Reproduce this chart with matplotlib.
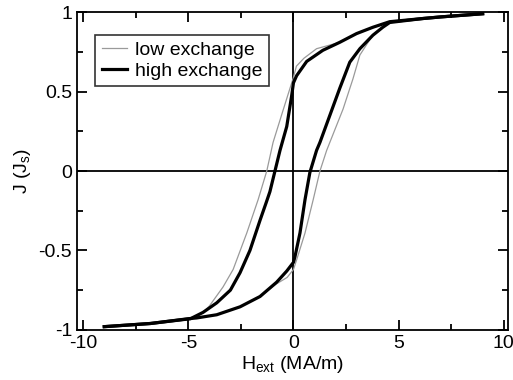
import numpy as np
import matplotlib
matplotlib.use('Agg')
import matplotlib.pyplot as plt
from matplotlib.ticker import MultipleLocator

plt.rcParams['font.family'] = ['Liberation Sans', 'DejaVu Sans']
plt.rcParams['mathtext.default'] = 'regular'

# high exchange, descending branch (from +saturation)
h_high_down = [9.0, 7.0, 6.16, 4.58, 3.78, 3.0, 2.2, 1.4, 0.63, 0.15, 0.0, -0.09, -0.32, -0.64,
               -0.88, -1.12, -1.3, -1.59, -2.07, -2.54, -3.0, -3.65, -4.3, -4.9, -6.8, -9.0]
j_high_down = [0.99, 0.97, 0.96, 0.94, 0.905, 0.865, 0.81, 0.76, 0.69, 0.60, 0.555, 0.47, 0.28, 0.13,
               0.0, -0.13, -0.2, -0.31, -0.50, -0.64, -0.75, -0.83, -0.89, -0.93, -0.96, -0.98]
# high exchange, ascending branch (from -saturation)
h_high_up = [-9.0, -6.8, -5.0, -4.6, -3.65, -2.54, -1.59, -0.8, -0.32, 0.0, 0.07, 0.31, 0.55,
             0.78, 1.1, 1.26, 1.73, 2.2, 2.68, 3.16, 3.78, 4.25, 4.58, 6.16, 7.0, 9.0]
j_high_up = [-0.98, -0.96, -0.93, -0.925, -0.905, -0.855, -0.79, -0.70, -0.63, -0.575, -0.54, -0.39, -0.18,
             -0.01, 0.13, 0.18, 0.35, 0.52, 0.685, 0.77, 0.855, 0.905, 0.935, 0.96, 0.97, 0.99]

# low exchange, descending branch
h_low_down = [9.0, 7.0, 4.58, 3.0, 2.2, 1.1, 0.5, 0.14, 0.0, -0.5, -0.97, -1.27, -1.68,
              -2.22, -2.87, -3.35, -4.0, -4.3, -4.9, -6.8, -9.0]
j_low_down = [0.99, 0.97, 0.94, 0.865, 0.81, 0.77, 0.71, 0.66, 0.59, 0.38, 0.18, 0.0, -0.18,
              -0.39, -0.62, -0.73, -0.85, -0.89, -0.93, -0.96, -0.98]
# low exchange, ascending branch
h_low_up = [-9.0, -6.8, -5.0, -4.6, -3.65, -2.54, -1.59, -0.8, -0.3, 0.0, 0.15, 0.55, 0.94,
            1.26, 1.58, 1.73, 2.36, 2.83, 3.16, 3.5, 3.78, 4.25, 4.58, 6.16, 7.0, 9.0]
j_low_up = [-0.98, -0.96, -0.93, -0.925, -0.905, -0.855, -0.79, -0.71, -0.67, -0.62, -0.56, -0.39, -0.18,
            0.0, 0.13, 0.18, 0.39, 0.58, 0.73, 0.80, 0.855, 0.905, 0.935, 0.96, 0.97, 0.99]

fig = plt.figure(figsize=(5.13, 3.8), dpi=100)
ax = fig.add_axes([0.150, 0.132, 0.840, 0.836])

ax.axhline(0, color='black', lw=1.3, zorder=1)
ax.axvline(0, color='black', lw=1.3, zorder=1)

ax.plot(h_low_down, j_low_down, color='#9a9a9a', lw=0.9, label='low exchange', zorder=2)
ax.plot(h_low_up, j_low_up, color='#9a9a9a', lw=0.9, zorder=2)
ax.plot(h_high_down, j_high_down, color='black', lw=2.3, label='high exchange', zorder=3,
        solid_joinstyle='round')
ax.plot(h_high_up, j_high_up, color='black', lw=2.3, zorder=3, solid_joinstyle='round')

ax.set_xlim(-10.3, 10.2)
ax.set_ylim(-1, 1)
ax.xaxis.set_minor_locator(MultipleLocator(2.5))
ax.yaxis.set_minor_locator(MultipleLocator(0.25))
ax.set_yticks([-1, -0.5, 0, 0.5, 1])
ax.set_yticklabels(['-1', '-0.5', '0', '0.5', '1'])
ax.set_xticks([-10, -5, 0, 5, 10])
ax.set_xticklabels(['-10', '-5', '0', '5', '10'])

ax.tick_params(which='both', direction='in', top=True, right=True, labelsize=14, width=1.3)
ax.tick_params(which='major', length=7)
ax.tick_params(which='minor', length=4)
for s in ax.spines.values():
    s.set_linewidth(1.3)

ax.set_xlabel('H$_{ext}$ (MA/m)', fontsize=14, labelpad=2)
ax.set_ylabel('J (J$_{s}$)', fontsize=14, labelpad=4)

leg = ax.legend(loc='upper left', bbox_to_anchor=(0.042, 0.928), borderaxespad=0,
                fontsize=14, frameon=True, fancybox=False, edgecolor='black',
                handlelength=1.3, handletextpad=0.4, borderpad=0.34, labelspacing=0.15)
leg.get_frame().set_linewidth(1.2)

plt.savefig('out.png', dpi=100)
plt.close(fig)
